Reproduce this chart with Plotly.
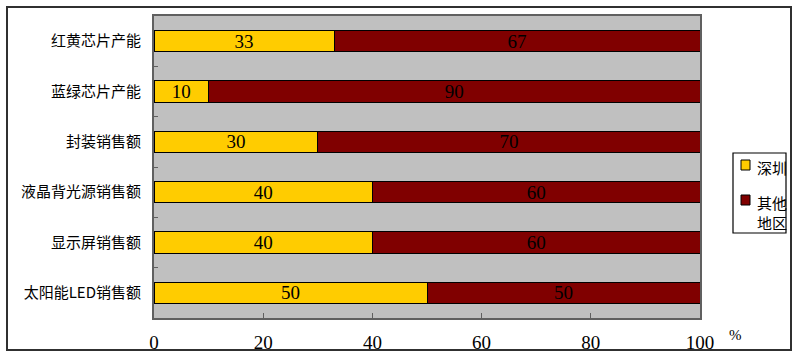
import plotly.graph_objects as go

categories = ["红黄芯片产能", "蓝绿芯片产能", "封装销售额", "液晶背光源销售额", "显示屏销售额", "太阳能LED销售额"]
shenzhen = [33, 10, 30, 40, 40, 50]
others = [67, 90, 70, 60, 60, 50]
series_names = ["深圳", "其他<br>地区"]
series_colors = ["#FFCC00", "#800000"]
x_ticks = [0, 20, 40, 60, 80, 100]

serif = "Liberation Serif, Noto Sans CJK SC, serif"
cjk = "Noto Sans CJK SC, Liberation Serif, sans-serif"

L, R, T, B = 154, 700, 16, 318
W, H = 800, 358
PW, PH = R - L, B - T


def px(x):
    return (x - L) / PW


def py(y):
    return (B - y) / PH


fig = go.Figure()
for vals, name, col in zip([shenzhen, others], series_names, series_colors):
    fig.add_trace(go.Bar(
        y=categories, x=vals, orientation="h", name=name,
        marker=dict(color=col, line=dict(color="#000000", width=1)),
        text=[str(v) for v in vals], textposition="inside", insidetextanchor="middle",
        textangle=0, constraintext="none",
        textfont=dict(family=serif, size=19, color="#000000"),
        hoverinfo="x+y", showlegend=False,
    ))

shapes = [
    dict(type="rect", xref="paper", yref="paper",
         x0=px(7), x1=px(791), y0=py(350), y1=py(7),
         line=dict(color="#303030", width=2), fillcolor="rgba(0,0,0,0)", layer="above"),
    dict(type="rect", xref="paper", yref="paper",
         x0=px(733), x1=px(786), y0=py(233), y1=py(153),
         line=dict(color="#000000", width=1.2), fillcolor="rgba(0,0,0,0)", layer="above"),
]
annotations = [
    dict(text="%", xref="paper", yref="paper", x=px(744), y=py(335), yanchor="middle",
         showarrow=False, font=dict(family=serif, size=15, color="#000000")),
]
legend_rows = [165, 200]
for name, col, yy in zip(series_names, series_colors, legend_rows):
    shapes.append(dict(type="rect", xref="paper", yref="paper",
                       x0=px(741), x1=px(750), y0=py(yy + 5), y1=py(yy - 5),
                       line=dict(color="#000000", width=1), fillcolor=col, layer="above"))
    annotations.append(dict(text=name, xref="paper", yref="paper", x=px(755), y=py(yy - 10),
                            xanchor="left", yanchor="top", align="left", showarrow=False,
                            font=dict(family=cjk, size=15, color="#000000")))

fig.update_layout(
    width=W, height=H,
    margin=dict(l=L, r=W - R, t=T, b=H - B, autoexpand=False),
    barmode="stack", bargap=0.58,
    paper_bgcolor="#FFFFFF", plot_bgcolor="#C0C0C0",
    font=dict(family=cjk, size=15, color="#000000"),
    showlegend=False,
    xaxis=dict(
        range=[0, 100], tickvals=x_ticks, ticktext=[str(v) for v in x_ticks],
        ticks="inside", ticklen=5, tickcolor="#606060",
        showgrid=False, zeroline=False,
        showline=True, linecolor="#606060", linewidth=2, mirror=True,
        tickfont=dict(family=serif, size=19, color="#000000"),
        ticklabelstandoff=6, automargin=False,
        fixedrange=True,
    ),
    yaxis=dict(
        autorange="reversed", type="category",
        ticks="inside", ticklen=4, tickcolor="#606060", tickson="boundaries",
        showgrid=False, zeroline=False,
        showline=True, linecolor="#606060", linewidth=2, mirror=True,
        tickfont=dict(family=cjk, size=15, color="#000000"),
        ticklabelstandoff=8, automargin=False,
        fixedrange=True,
    ),
    shapes=shapes,
    annotations=annotations,
)

fig.write_html("out.html")
